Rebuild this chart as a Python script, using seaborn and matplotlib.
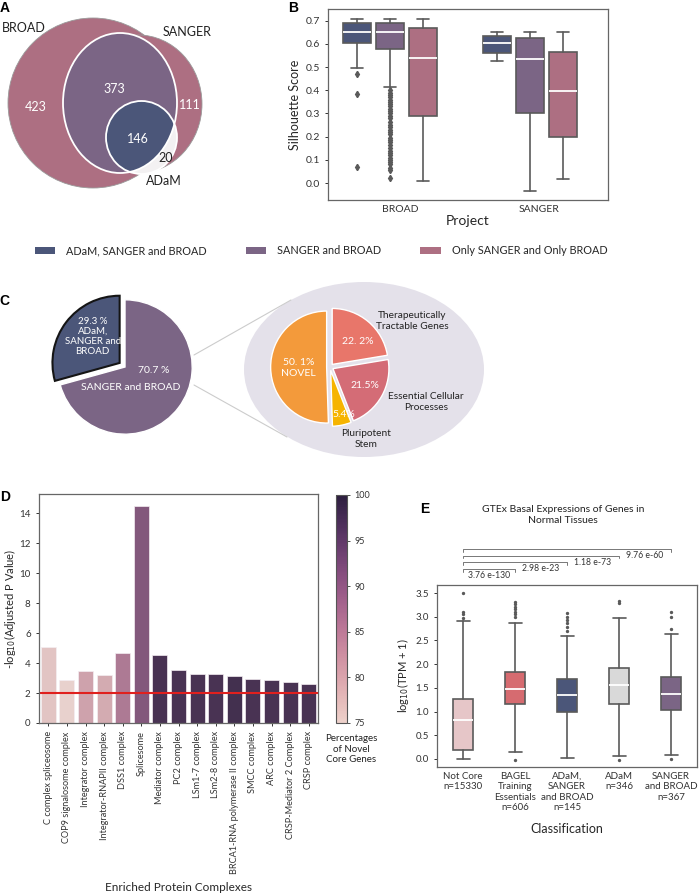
import matplotlib
matplotlib.use("Agg")
import matplotlib.pyplot as plt
from matplotlib.patches import Ellipse, Patch
from matplotlib.cm import ScalarMappable
import seaborn as sns

sns.set_style("ticks")
plt.rcParams['font.family'] = ['Lato', 'DejaVu Sans']

W, H = 699, 894

# -------------------- Colours --------------------
C_ALL = '#4b5679'
C_SB = '#7b6585'
C_ONLY = '#ad6f82'
EDGE = '#5a5a5a'

# -------------------- Data --------------------
# A: venn counts
venn_sets = ['BROAD', 'SANGER', 'ADaM']
venn_counts = [423, 373, 111, 146, 20]

# B: silhouette score box statistics (BROAD x3, SANGER x3)
b_projects = ['BROAD', 'SANGER']
b_groups = ['ADaM, SANGER and BROAD', 'SANGER and BROAD', 'Only SANGER and Only BROAD']
b_whislo = [0.494, 0.414, 0.009, 0.528, -0.034, 0.017]
b_q1 = [0.605, 0.579, 0.289, 0.562, 0.303, 0.197]
b_med = [0.653, 0.651, 0.540, 0.602, 0.535, 0.398]
b_q3 = [0.691, 0.691, 0.667, 0.635, 0.624, 0.563]
b_whishi = [0.707, 0.707, 0.707, 0.652, 0.652, 0.652]
b_fliers = [
    [0.47, 0.384, 0.07],
    [0.40, 0.39, 0.38, 0.37, 0.36, 0.35, 0.34, 0.33, 0.32, 0.31, 0.30, 0.29,
     0.28, 0.265, 0.25, 0.24, 0.23, 0.22, 0.21, 0.195, 0.185, 0.175, 0.165,
     0.15, 0.14, 0.13, 0.12, 0.11, 0.10, 0.09, 0.08, 0.065, 0.055, 0.02],
    [], [], [], [],
]

# C: pies
c_outer_pct = [29.3, 70.7]
c_outer_text = ['29.3 %\nADaM,\nSANGER and\nBROAD', '70.7 %']
c_inner_labels = ['NOVEL', 'Pluripotent\nStem', 'Essential Cellular\nProcesses',
                  'Therapeutically\nTractable Genes']
c_inner_pct = [50.1, 5.4, 21.5, 22.2]
c_inner_text = ['50. 1%\nNOVEL', '5.4%', '21.5%', '22. 2%']
c_inner_colors = ['#f39a3b', '#f6b400', '#d46c76', '#e8766a']

# D: enriched complexes
d_complexes = ['C complex spliceosome', 'COP9 signalosome complex', 'Integrator complex',
               'Integrator-RNAPII complex', 'DSS1 complex', 'Splicesome', 'Mediator complex',
               'PC2 complex', 'LSm1-7 complex', 'LSm2-8 complex',
               'BRCA1-RNA polymerase II complex', 'SMCC complex', 'ARC complex',
               'CRSP-Mediator 2 Complex', 'CRSP complex']
d_logp = [5.05, 2.85, 3.45, 3.2, 4.7, 14.5, 4.55, 3.55, 3.25, 3.28, 3.15, 2.95, 2.9, 2.75, 2.6]
d_novel_pct = [77, 75.5, 81, 80, 86, 91, 97, 97, 97, 97, 97.5, 97, 97, 97, 97]

# E: GTEx expression box statistics
e_labels = ['Not Core\nn=15330', 'BAGEL\nTraining\nEssentials\nn=606',
            'ADaM,\nSANGER\nand BROAD\nn=145', 'ADaM\nn=346', 'SANGER\nand BROAD\nn=367']
e_colors = ['#e6c6c8', '#d66b70', C_ALL, '#d9d9d9', C_SB]
e_whislo = [0.0, 0.15, 0.03, 0.06, 0.08]
e_q1 = [0.18, 1.16, 1.00, 1.16, 1.03]
e_med = [0.82, 1.47, 1.34, 1.55, 1.37]
e_q3 = [1.27, 1.84, 1.68, 1.91, 1.72]
e_whishi = [2.90, 2.87, 2.60, 2.98, 2.64]
e_fliers = [
    [2.97, 3.06, 3.11, 3.50],
    [3.00, 3.06, 3.11, 3.16, 3.21, 3.27, 3.32, -0.02],
    [2.69, 2.78, 2.86, 2.93, 3.00, 3.07],
    [3.28, 3.33, -0.02],
    [2.74, 3.00, 3.11, 0.0],
]
e_pvalues = ['3.76 e-130', '2.98 e-23', '1.18 e-73', '9.76 e-60']

# -------------------- Figure --------------------
fig = plt.figure(figsize=(W / 100, H / 100), dpi=100)


def px_axes(x0, y0, x1, y1):
    return fig.add_axes([x0 / W, 1 - y1 / H, (x1 - x0) / W, (y1 - y0) / H])


def frame(ax):
    for s in ax.spines.values():
        s.set_visible(True)
        s.set_color('#666666')
        s.set_linewidth(0.9)
    ax.tick_params(colors='#333333', length=2.5, width=0.7)


# overlay in pixel coordinates for venn, bubble, lines and free text
ov = px_axes(0, 0, W, H)
ov.set_xlim(0, W)
ov.set_ylim(H, 0)
ov.axis('off')
ov.set_zorder(-1)

# -------------------- A: venn --------------------
ov.add_patch(Ellipse((93, 103), 170, 170, fc=C_ONLY, ec='#9a9a9a', lw=0.6))
ov.add_patch(Ellipse((138, 104), 128, 138, fc=C_ONLY, ec='#9a9a9a', lw=0.6))
both = Ellipse((120, 103), 114, 140, fc=C_SB, ec='none')
ov.add_patch(both)
ov.add_patch(Ellipse((141.5, 137.5), 71, 73, fc='#f3f1f2', ec='none'))
adam_in = Ellipse((141.5, 137.5), 71, 73, fc=C_ALL, ec='none')
ov.add_patch(adam_in)
adam_in.set_clip_path(both)
ov.add_patch(Ellipse((120, 103), 114, 140, fc='none', ec='white', lw=1.3))
ov.add_patch(Ellipse((141.5, 137.5), 71, 73, fc='none', ec='white', lw=1.3))

venn_xy = [(36, 107), (114, 89), (190, 105), (138, 139), (166, 158)]
for n, (x, y) in zip(venn_counts, venn_xy):
    ov.text(x, y, str(n), ha='center', va='center', fontsize=9,
            color='#222222' if n == 20 else 'white')
ov.text(2, 28, venn_sets[0], ha='left', va='center', fontsize=9, color='#222222')
ov.text(163, 32, venn_sets[1], ha='left', va='center', fontsize=9, color='#222222')
ov.text(146, 181, venn_sets[2], ha='left', va='center', fontsize=9, color='#222222')

# -------------------- B: boxplots --------------------
axB = px_axes(328, 9, 608, 200)
b_pos = [0, 1, 2, 4.24, 5.24, 6.24]
b_stats = [dict(whislo=a, q1=b, med=c, q3=d, whishi=e, fliers=f)
           for a, b, c, d, e, f in zip(b_whislo, b_q1, b_med, b_q3, b_whishi, b_fliers)]
bp = axB.bxp(b_stats, positions=b_pos, widths=0.87, patch_artist=True, capwidths=0.38,
             boxprops=dict(edgecolor=EDGE, linewidth=1.2),
             whiskerprops=dict(color=EDGE, lw=1.2), capprops=dict(color=EDGE, lw=1.2),
             medianprops=dict(color='white', lw=1.3),
             flierprops=dict(marker='d', markersize=3.2, markerfacecolor=EDGE,
                             markeredgecolor=EDGE))
for patch, c in zip(bp['boxes'], [C_ALL, C_SB, C_ONLY] * 2):
    patch.set_facecolor(c)
axB.set_xlim(-0.88, 7.6)
axB.set_ylim(-0.073, 0.75)
axB.set_yticks([0, 0.1, 0.2, 0.3, 0.4, 0.5, 0.6, 0.7])
axB.set_yticklabels(['0.0', '0.1', '0.2', '0.3', '0.4', '0.5', '0.6', '0.7'], fontsize=7.5)
axB.set_xticks([1.3, 5.5])
axB.set_xticklabels(b_projects, fontsize=7.5)
frame(axB)
axB.tick_params(axis='x', length=0)
axB.set_ylabel('Silhouette Score', fontsize=9, labelpad=3)
axB.set_xlabel('Project', fontsize=10, labelpad=1)

handles = [Patch(facecolor=c, edgecolor='none') for c in [C_ALL, C_SB, C_ONLY]]
fig.legend(handles, b_groups, loc='center', bbox_to_anchor=(321 / W, 1 - 251 / H),
           ncol=3, frameon=False, fontsize=7.8, handlelength=1.9, handleheight=0.55,
           handletextpad=1.0, columnspacing=3.6)

# -------------------- C: pies --------------------
ov.add_patch(Ellipse((364, 369.5), 240, 175, fc='#e4e1ea', ec='none'))
ov.plot([194, 291], [355, 300], color='#cccccc', lw=0.8)
ov.plot([194, 287], [385, 437], color='#cccccc', lw=0.8)

axC1 = px_axes(125 - 84, 367 - 84, 125 + 84, 367 + 84)
axC1.patch.set_alpha(0)
w1, _ = axC1.pie(c_outer_pct, colors=[C_ALL, C_SB], startangle=90, explode=[0.1, 0],
                 radius=1)
w1[0].set_edgecolor('#151515')
w1[0].set_linewidth(1.5)
axC1.set_xlim(-1.25, 1.25)
axC1.set_ylim(-1.25, 1.25)
axC1.text(-0.48, 0.46, c_outer_text[0], ha='center', va='center', fontsize=7,
          color='white', linespacing=1.15)
axC1.text(0.42, -0.045, c_outer_text[1], ha='center', va='center', fontsize=7.5, color='white')
axC1.text(0.09, -0.31, b_groups[1], ha='center', va='center', fontsize=7.5, color='white')

axC2 = px_axes(330 - 70, 367 - 70, 330 + 70, 367 + 70)
axC2.patch.set_alpha(0)
w2, _ = axC2.pie(c_inner_pct, colors=c_inner_colors, startangle=90,
                 explode=[0.06] * 4, radius=1)
axC2.set_xlim(-1.25, 1.25)
axC2.set_ylim(-1.25, 1.25)
for t, (x, y) in zip(c_inner_text, [(-0.56, -0.02), (0.25, -0.85), (0.62, -0.33), (0.49, 0.45)]):
    axC2.text(x, y, t, ha='center', va='center', fontsize=7.5, color='white')
for t, (x, y) in zip(c_inner_labels[1:], [(366, 439), (426, 402), (412, 321)]):
    ov.text(x, y, t, ha='center', va='center', fontsize=7.3, color='#222222', linespacing=1.2)

# -------------------- D: bar chart --------------------
cmap = sns.cubehelix_palette(as_cmap=True)
norm = plt.Normalize(75, 100)
d_colors = [cmap(norm(v)) for v in d_novel_pct]
axD = px_axes(39, 494, 318, 723)
sns.barplot(x=d_complexes, y=d_logp, hue=d_complexes, palette=d_colors, legend=False,
            ax=axD, width=0.8, edgecolor='#f4eef2', linewidth=0.5)
axD.axhline(2, color='#e0201e', lw=1.5)
axD.set_ylim(0, 15.27)
axD.set_yticks(range(0, 15, 2))
axD.tick_params(axis='y', labelsize=7)
axD.tick_params(axis='x', labelsize=6.6, rotation=90)
frame(axD)
axD.set_ylabel('-log$_{10}$(Adjusted P Value)', fontsize=8, labelpad=1)
axD.set_xlabel('Enriched Protein Complexes', fontsize=8.5, labelpad=6)

cax = px_axes(336, 495, 347, 723)
cb = fig.colorbar(ScalarMappable(norm=norm, cmap=cmap), cax=cax)
cb.set_ticks([75, 80, 85, 90, 95, 100])
cb.ax.tick_params(labelsize=6.5, length=2, width=0.6, colors='#333333')
cb.outline.set_edgecolor('#555555')
cb.outline.set_linewidth(0.8)
ov.text(351, 749, 'Percentages\nof Novel\nCore Genes', ha='center', va='center',
        fontsize=7, color='#222222', linespacing=1.2)

# -------------------- E: GTEx boxplots --------------------
axE = px_axes(437, 585, 697, 767)
e_stats = [dict(whislo=a, q1=b, med=c, q3=d, whishi=e, fliers=f)
           for a, b, c, d, e, f in zip(e_whislo, e_q1, e_med, e_q3, e_whishi, e_fliers)]
bpE = axE.bxp(e_stats, positions=range(len(e_stats)), widths=0.4, patch_artist=True,
              capwidths=0.25,
              boxprops=dict(edgecolor=EDGE, linewidth=1.2),
              whiskerprops=dict(color=EDGE, lw=1.2), capprops=dict(color=EDGE, lw=1.2),
              medianprops=dict(color='white', lw=1.3),
              flierprops=dict(marker='o', markersize=1.4, markerfacecolor=EDGE,
                              markeredgecolor=EDGE))
for patch, c in zip(bpE['boxes'], e_colors):
    patch.set_facecolor(c)
axE.set_xlim(-0.5, 4.5)
axE.set_ylim(-0.17, 3.67)
axE.set_yticks([0, 0.5, 1, 1.5, 2, 2.5, 3, 3.5])
axE.set_yticklabels(['0.0', '0.5', '1.0', '1.5', '2.0', '2.5', '3.0', '3.5'], fontsize=7)
axE.set_xticks(range(len(e_labels)))
axE.set_xticklabels(e_labels, fontsize=7, linespacing=1.2)
frame(axE)
axE.tick_params(axis='x', length=0)
axE.set_ylabel('log$_{10}$(TPM + 1)', fontsize=8, labelpad=3)
axE.set_xlabel('Classification', fontsize=9, labelpad=8)

for i, pv in enumerate(e_pvalues):
    j = i + 1
    y = 4.01 + 0.14 * i
    axE.plot([0, 0, j, j], [y - 0.06, y, y, y - 0.06], color='#777777', lw=0.7,
             clip_on=False)
    axE.text(j - 0.5, y - 0.04, pv, ha='center', va='top', fontsize=6.2,
             color='#333333', clip_on=False)
ov.text(563, 515, 'GTEx Basal Expressions of Genes in\nNormal Tissues', ha='center',
        va='center', fontsize=7.5, color='#222222', linespacing=1.25)

# -------------------- Panel letters --------------------
for letter, (x, y) in zip('ABCDE', [(5, 8), (293, 8), (4, 301), (5, 497), (425, 509)]):
    ov.text(x, y, letter, ha='center', va='center', fontsize=10, fontweight='bold',
            family='Liberation Sans', color='black')

fig.savefig('out.png', dpi=100)
